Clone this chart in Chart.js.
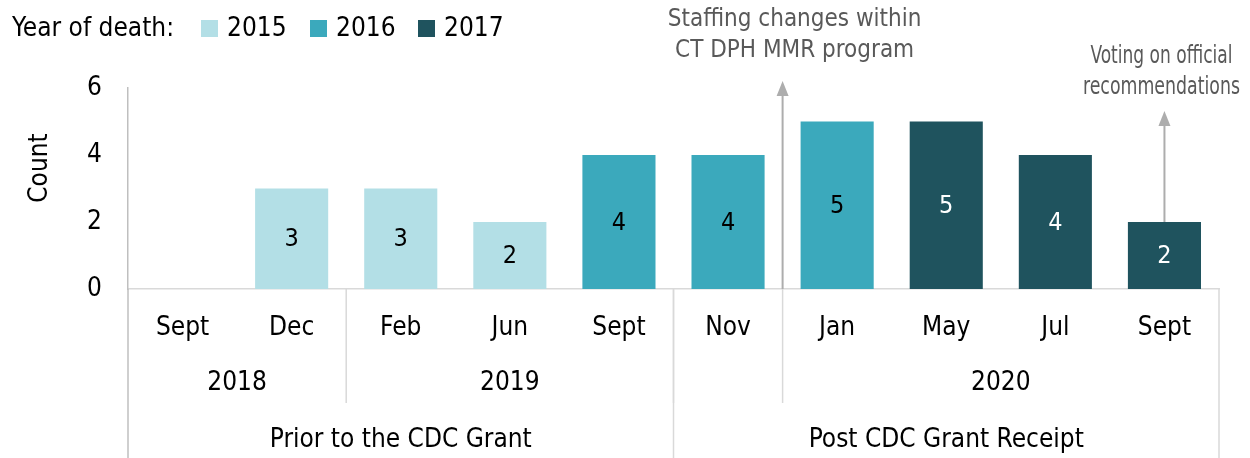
<!DOCTYPE html>
<html>
<head>
<meta charset="utf-8">
<script src="https://cdn.jsdelivr.net/npm/chart.js@4.4.1/dist/chart.umd.min.js"></script>
<style>
  html, body { margin: 0; padding: 0; background: #fff; }
  #wrap { width: 1250px; height: 458px; position: relative; }
</style>
</head>
<body>
<div id="wrap"><canvas id="chart"></canvas></div>
<script>
const FONT = "'Liberation Sans Narrow', 'DejaVu Sans Condensed', sans-serif";

// data
const months = ['Sept', 'Dec', 'Feb', 'Jun', 'Sept', 'Nov', 'Jan', 'May', 'Jul', 'Sept'];
const deaths2015 = [null, 3, 3, 2, null, null, null, null, null, null];
const deaths2016 = [null, null, null, null, 4, 4, 5, null, null, null];
const deaths2017 = [null, null, null, null, null, null, null, 5, 4, 2];
const yearSpans = [['2018', 0, 1], ['2019', 2, 4], ['', 5, 5], ['2020', 6, 9]];
const groupSpans = [['Prior to the CDC Grant', 0, 4], ['Post CDC Grant Receipt', 5, 9]];
const notes = [
  { idx: 6, lines: ['Staffing changes within', 'CT DPH MMR program'] },
  { idx: 9, lines: ['Voting on official', 'recommendations'] }
];

const COLORS = ['#b3dfe6', '#3ba9bc', '#1f535e'];
const LABEL_COLORS = ['#000', '#000', '#fff'];

const extras = {
  id: 'extras',
  afterDatasetsDraw(chart) {
    const ctx = chart.ctx;
    const x = chart.scales.x;
    const area = chart.chartArea;
    const step = (area.right - area.left) / months.length;
    const base = area.bottom;
    const yearRowBottom = 403;
    const H = chart.height;

    ctx.save();
    // bar values
    ctx.font = '25px ' + FONT;
    ctx.textAlign = 'center';
    ctx.textBaseline = 'middle';
    chart.data.datasets.forEach((ds, di) => {
      const meta = chart.getDatasetMeta(di);
      meta.data.forEach((bar, i) => {
        const v = ds.data[i];
        if (v == null || v === 0) return;
        ctx.fillStyle = LABEL_COLORS[di];
        ctx.fillText(String(v), bar.x, (bar.y + bar.base) / 2 + 1);
      });
    });

    // axis title
    ctx.fillStyle = '#000';
    ctx.save();
    ctx.translate(40, 168);
    ctx.rotate(-Math.PI / 2);
    ctx.font = '26px ' + FONT;
    ctx.fillText('Count', 0, 0);
    ctx.restore();

    // category labels
    ctx.font = '26px ' + FONT;
    months.forEach((m, i) => ctx.fillText(m, x.getPixelForValue(i), 328));

    // dividers
    ctx.strokeStyle = '#d9d9d9';
    ctx.lineWidth = 1.5;
    const vline = (px, y1, y2) => { ctx.beginPath(); ctx.moveTo(px, y1); ctx.lineTo(px, y2); ctx.stroke(); };
    yearSpans.forEach(s => {
      if (s[1] > 0) vline(area.left + s[1] * step, base, yearRowBottom);
    });
    groupSpans.forEach(s => {
      if (s[1] > 0) vline(area.left + s[1] * step, base, H);
    });
    vline(area.right, base, H);
    ctx.strokeStyle = '#bfbfbf';
    vline(area.left, base, H);

    // year and group labels
    yearSpans.forEach(s => {
      if (!s[0]) return;
      const cx = area.left + (s[1] + s[2] + 1) / 2 * step;
      ctx.fillText(s[0], cx, 383);
    });
    groupSpans.forEach(s => {
      const cx = area.left + (s[1] + s[2] + 1) / 2 * step;
      ctx.fillText(s[0], cx, 440);
    });

    // annotation arrows
    const arrow = (px, yTop, yBot) => {
      ctx.strokeStyle = '#adadad';
      ctx.fillStyle = '#adadad';
      ctx.lineWidth = 2;
      vline(px, yTop + 10, yBot);
      ctx.beginPath();
      ctx.moveTo(px, yTop);
      ctx.lineTo(px - 6, yTop + 15);
      ctx.lineTo(px + 6, yTop + 15);
      ctx.closePath();
      ctx.fill();
    };
    // staffing change arrow between Nov and Jan
    const ax1 = area.left + notes[0].idx * step;
    arrow(ax1, 81, base);
    // voting arrow over last bar
    const lastBar = chart.getDatasetMeta(2).data[notes[1].idx];
    arrow(lastBar.x, 111, lastBar.y);

    ctx.fillStyle = '#595959';
    ctx.font = '24px ' + FONT;
    notes[0].lines.forEach((t, k) => ctx.fillText(t, ax1 + 12, 20 + k * 31));
    // keep the right-hand note inside the canvas
    const noteWidths = [142, 157];
    notes[1].lines.forEach((t, k) => ctx.fillText(t, lastBar.x - 3, 57 + k * 31, noteWidths[k]));

    // legend
    ctx.textAlign = 'left';
    ctx.fillStyle = '#000';
    ctx.font = '26px ' + FONT;
    ctx.fillText('Year of death:', 12, 29);
    const swatchX = [201, 310, 418];
    chart.data.datasets.forEach((ds, di) => {
      ctx.fillStyle = COLORS[di];
      ctx.fillRect(swatchX[di], 20, 17, 17);
      ctx.fillStyle = '#000';
      ctx.fillText(ds.label, swatchX[di] + 26, 29);
    });
    ctx.restore();
  }
};

new Chart(document.getElementById('chart'), {
  type: 'bar',
  data: {
    labels: months,
    datasets: [
      { label: '2015', data: deaths2015, backgroundColor: COLORS[0] },
      { label: '2016', data: deaths2016, backgroundColor: COLORS[1] },
      { label: '2017', data: deaths2017, backgroundColor: COLORS[2] }
    ]
  },
  options: {
    responsive: true,
    maintainAspectRatio: false,
    animation: false,
    layout: { padding: { top: 88, right: 31, left: 0, bottom: 0 } },
    datasets: { bar: { barPercentage: 0.67, categoryPercentage: 1 } },
    plugins: { legend: { display: false }, tooltip: { enabled: false } },
    scales: {
      x: {
        stacked: true,
        grid: { display: false },
        border: { color: '#d9d9d9', width: 1.5 },
        ticks: { display: false },
        afterFit(scale) { scale.height = 169; }
      },
      y: {
        stacked: true,
        min: 0,
        max: 6,
        grid: { display: false, drawTicks: false },
        border: { color: '#bfbfbf', width: 1.5 },
        ticks: { stepSize: 2, padding: 26, color: '#000', font: { family: FONT, size: 26 } },
        afterFit(scale) { scale.width = 128; }
      }
    }
  },
  plugins: [extras]
});
</script>
</body>
</html>
